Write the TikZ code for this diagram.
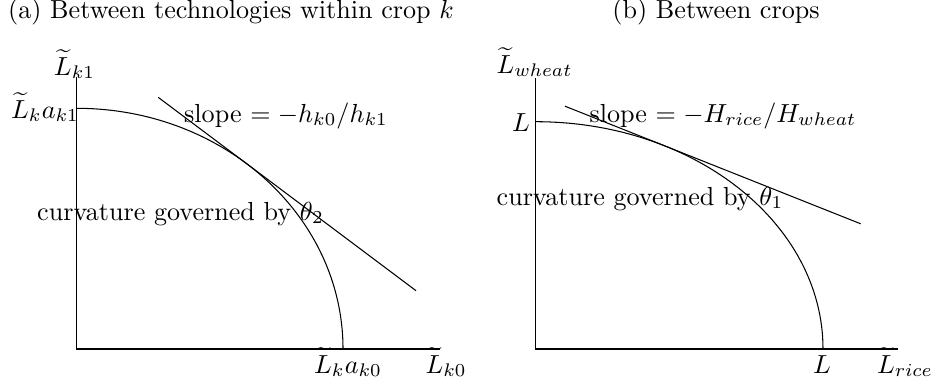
\documentclass[tikz,border=0pt]{standalone}
\usepackage{amsmath}
\begin{document}
\begin{tikzpicture}[x=0.3831pt,y=0.3831pt,
  lbl/.style={anchor=base,inner sep=0pt,outer sep=0pt},
  curve/.style={line width=0.4pt}]
\useasboundingbox (0,0) rectangle (935,387);
% ---------- panel (a) ----------
\coordinate (Oa) at (76.7,38);
\coordinate (Ya) at (76.7,310.3);
\coordinate (Xa) at (440,38);
\coordinate (Sa) at (76.7,278.7);
\coordinate (T1a) at (158.3,289.6);
\coordinate (T2a) at (416,96.3);
\draw (Ya) -- (Oa) -- (Xa);
\draw[curve] (Sa) arc[start angle=90,end angle=0,x radius=266.3,y radius=240.7];
\draw (T1a) -- (T2a);
\node[lbl] (capa) at (231,368.5) {(a) Between technologies within crop $k$};
\node[lbl] (ya) at (74.5,312) {$\widetilde{L}_{k1}$};
\node[lbl] (ta) at (45,269) {$\widetilde{L}_k a_{k1}$};
\node[lbl] (sa) at (286,265) {slope $= -h_{k0}/h_{k1}$};
\node[lbl] (ca) at (180.5,167) {curvature governed by $\theta_2$};
\node[lbl] (ra) at (348,14) {$\widetilde{L}_k a_{k0}$};
\node[lbl] (xa) at (446,14) {$\widetilde{L}_{k0}$};
% ---------- panel (b) ----------
\coordinate (Ob) at (535.7,38);
\coordinate (Yb) at (535.7,308.7);
\coordinate (Xb) at (898,38);
\coordinate (Sb) at (535.7,265.3);
\coordinate (T1b) at (565,280.8);
\coordinate (T2b) at (860.7,163.2);
\draw (Yb) -- (Ob) -- (Xb);
\draw[curve] (Sb) arc[start angle=90,end angle=0,x radius=287.3,y radius=227.3];
\draw (T1b) -- (T2b);
\node[lbl] (capb) at (716,368.5) {(b) Between crops};
\node[lbl] (yb) at (534.5,314) {$\widetilde{L}_{wheat}$};
\node[lbl] (tb) at (521,255.3) {$L$};
\node[lbl] (sb) at (723,265) {slope $= -H_{rice}/H_{wheat}$};
\node[lbl] (cb) at (640,182) {curvature governed by $\theta_1$};
\node[lbl] (rb) at (822,14) {$L$};
\node[lbl] (xb) at (905,14) {$\widetilde{L}_{rice}$};
\end{tikzpicture}
\end{document}
